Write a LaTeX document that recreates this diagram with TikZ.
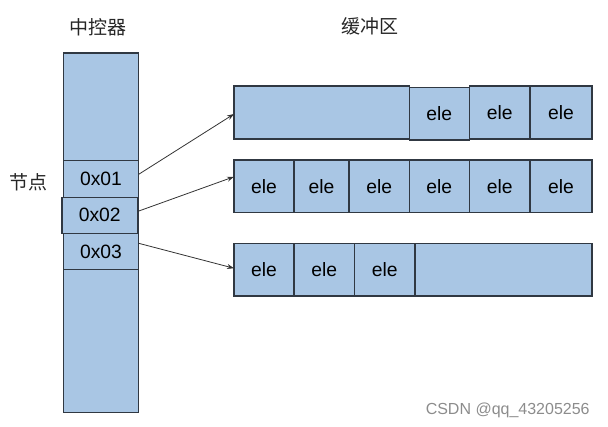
\documentclass[tikz,border=0pt]{standalone}
\usepackage{fontspec}
\setmainfont{Liberation Sans}
\newfontfamily\cjk{Noto Sans CJK SC}
\usetikzlibrary{arrows.meta}
\definecolor{cellfill}{RGB}{169,198,228}
\definecolor{celldraw}{RGB}{48,56,66}
\definecolor{wm}{RGB}{140,140,140}
\tikzset{
  cell/.style={draw=celldraw, fill=cellfill, line width=1.1pt, inner sep=0pt, outer sep=0pt,
    font=\fontsize{19.3}{21}\selectfont, text=black},
  title/.style={font=\cjk\fontsize{19}{21}\selectfont, text=black!85, inner sep=0pt},
  link/.style={draw=black!80, line width=0.8pt, -{Stealth[length=7pt,width=5pt]}}
}
\begin{document}
\begin{tikzpicture}[x=1pt,y=-1pt]
\useasboundingbox (0,0) rectangle (608,426);
% titles
\node[title] (t1) at (98,27) {中控器};
\node[title] (t2) at (370,26) {缓冲区};
\node[title] (t3) at (28.5,182) {节点};
% controller column
\node[cell, minimum width=75.4pt, minimum height=359.7pt] (col) at (101,232.85) {};
\node[cell, minimum width=75.4pt, minimum height=37pt] (n1) at (101,178.8) {0x01};
\node[cell, minimum width=75.4pt, minimum height=36pt] (n3) at (101,251.7) {0x03};
\node[cell, minimum width=75.4pt, minimum height=36pt, line width=1.4pt] (n2) at (99.7,215.3) {0x02};
% row 1
\node[cell, minimum width=175.3pt, minimum height=53pt] (r1a) at (321.65,112.5) {};
\node[cell, minimum width=60.7pt, minimum height=53pt] (r1e) at (499.65,112.5) {ele};
\node[cell, minimum width=62pt, minimum height=53pt] (r1f) at (561,112.5) {ele};
\node[cell, minimum width=60pt, minimum height=52.7pt, line width=1.5pt] (r1d) at (439.3,113.6) {ele};
% row 2
\node[cell, minimum width=60pt, minimum height=52.7pt] (r2a) at (264,186.35) {ele};
\node[cell, minimum width=55pt, minimum height=52.7pt] (r2b) at (321.5,186.35) {ele};
\node[cell, minimum width=60.3pt, minimum height=52.7pt] (r2c) at (379.15,186.35) {ele};
\node[cell, minimum width=60pt, minimum height=52.7pt] (r2d) at (439.3,186.35) {ele};
\node[cell, minimum width=60.7pt, minimum height=52.7pt] (r2e) at (499.65,186.35) {ele};
\node[cell, minimum width=62pt, minimum height=52.7pt] (r2f) at (561,186.35) {ele};
% row 3
\node[cell, minimum width=60pt, minimum height=52.7pt] (r3a) at (264,269.65) {ele};
\node[cell, minimum width=60.7pt, minimum height=52.7pt] (r3b) at (324.35,269.65) {ele};
\node[cell, minimum width=60.3pt, minimum height=52.7pt] (r3c) at (384.85,269.65) {ele};
\node[cell, minimum width=177pt, minimum height=52.7pt] (r3d) at (503.5,269.65) {};
% arrows
\draw[link] ([yshift=4.5pt]n1.east) -- ([yshift=-1.5pt]r1a.west);
\draw[link] ([xshift=0.6pt,yshift=4pt]n2.east) -- ([yshift=9.6pt]r2a.west);
\draw[link] ([yshift=8.4pt]n3.east) -- ([yshift=1.4pt]r3a.west);
% watermark
\node[font=\fontsize{16}{18}\selectfont, text=wm, inner sep=0pt] (wmk) at (507.7,410) {CSDN @qq\_43205256};
\end{tikzpicture}
\end{document}
